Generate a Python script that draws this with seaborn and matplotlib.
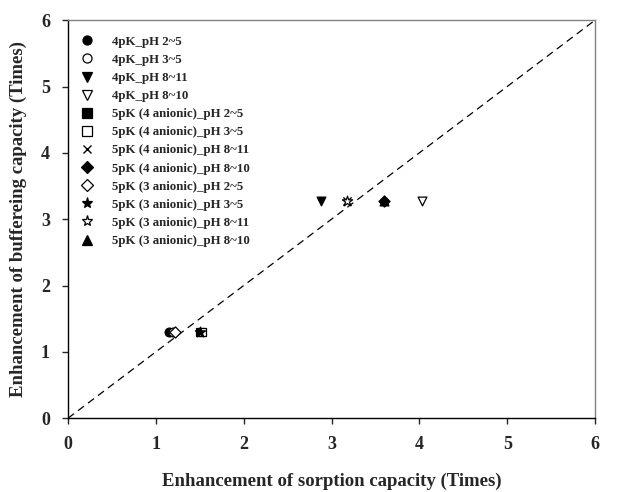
import numpy as np
import pandas as pd
import seaborn as sns
import matplotlib.pyplot as plt
from matplotlib.lines import Line2D

sns.set_style('ticks')
plt.rcParams['font.family'] = ['Liberation Serif', 'DejaVu Serif']
plt.rcParams['font.weight'] = 'bold'

# series labels, markers, fill
labels = ['4pK_pH 2~5', '4pK_pH 3~5', '4pK_pH 8~11', '4pK_pH 8~10',
          '5pK (4 anionic)_pH 2~5', '5pK (4 anionic)_pH 3~5',
          '5pK (4 anionic)_pH 8~11', '5pK (4 anionic)_pH 8~10',
          '5pK (3 anionic)_pH 2~5', '5pK (3 anionic)_pH 3~5',
          '5pK (3 anionic)_pH 8~11', '5pK (3 anionic)_pH 8~10']
markers = ['o', 'o', 'v', 'v', 's', 's', 'x', 'D', 'D', '*', '*', '^']
filled = [True, False, True, False, True, False, True, True, False, True, False, True]

# values
sorption = [1.15, 1.20, 2.88, 4.03, 1.50, 1.52, 3.18, 3.60, 1.22, 1.50, 3.18, 3.60]
buffering = [1.30, 1.30, 3.28, 3.28, 1.30, 1.30, 3.28, 3.28, 1.30, 1.30, 3.28, 3.28]

df = pd.DataFrame({'series': labels, 'x': sorption, 'y': buffering})

fig = plt.figure(figsize=(6.27, 4.92), dpi=100)
ax = fig.add_axes([0.1085, 0.150, 0.8405, 0.809])

# 1:1 line
ax.plot([0, 6], [0, 6], ls=(0, (6, 4)), color='black', lw=0.9, zorder=1)

# draw order so the filled triangle sits under the diamond
order = [11, 0, 1, 2, 3, 4, 5, 6, 7, 8, 9, 10]
for i in order:
    row = df.iloc[[i]]
    sz = {'*': 60, 'D': 32}.get(markers[i], 40)
    if markers[i] == 'x':
        sns.scatterplot(data=row, x='x', y='y', marker='x', color='black',
                        s=35, linewidth=1.0, ax=ax, zorder=3)
    else:
        sns.scatterplot(data=row, x='x', y='y', marker=markers[i],
                        color='black' if filled[i] else 'white',
                        edgecolor='black', linewidth=0.9, s=sz, ax=ax, zorder=3)

leg_handles = []
for i in range(len(labels)):
    ms = {'*': 8, 'D': 6}.get(markers[i], 6.5)
    if markers[i] == 'x':
        h = Line2D([], [], ls='none', marker='x', color='black', ms=6, mew=1.0)
    else:
        h = Line2D([], [], ls='none', marker=markers[i], ms=ms, mew=0.9,
                   markerfacecolor='black' if filled[i] else 'white',
                   markeredgecolor='black')
    leg_handles.append(h)
ax.legend(leg_handles, labels, loc='upper left', frameon=False,
          prop={'size': 9.3, 'weight': 'bold'}, handletextpad=1.3,
          labelspacing=0.47, borderaxespad=0.5, handlelength=1.2,
          bbox_to_anchor=(0.0, 0.99))

ax.set_xlim(0, 6)
ax.set_ylim(0, 6)
ax.set_xticks(range(7))
ax.set_yticks(range(7))
ax.tick_params(direction='out', length=4, width=1, labelsize=13, pad=9)
for lab in ax.get_xticklabels() + ax.get_yticklabels():
    lab.set_fontweight('bold')
ax.set_xlabel('Enhancement of sorption capacity (Times)', fontsize=13.5,
              fontweight='bold', labelpad=14)
ax.set_ylabel('Enhancement of buffereing capacity (Times)', fontsize=13.5,
              fontweight='bold', labelpad=10)
for s in ['left', 'bottom']:
    ax.spines[s].set_color('black')
    ax.spines[s].set_linewidth(1.0)
for s in ['top', 'right']:
    ax.spines[s].set_color('#808080')
    ax.spines[s].set_linewidth(1.0)

fig.savefig('out.png', dpi=100)
